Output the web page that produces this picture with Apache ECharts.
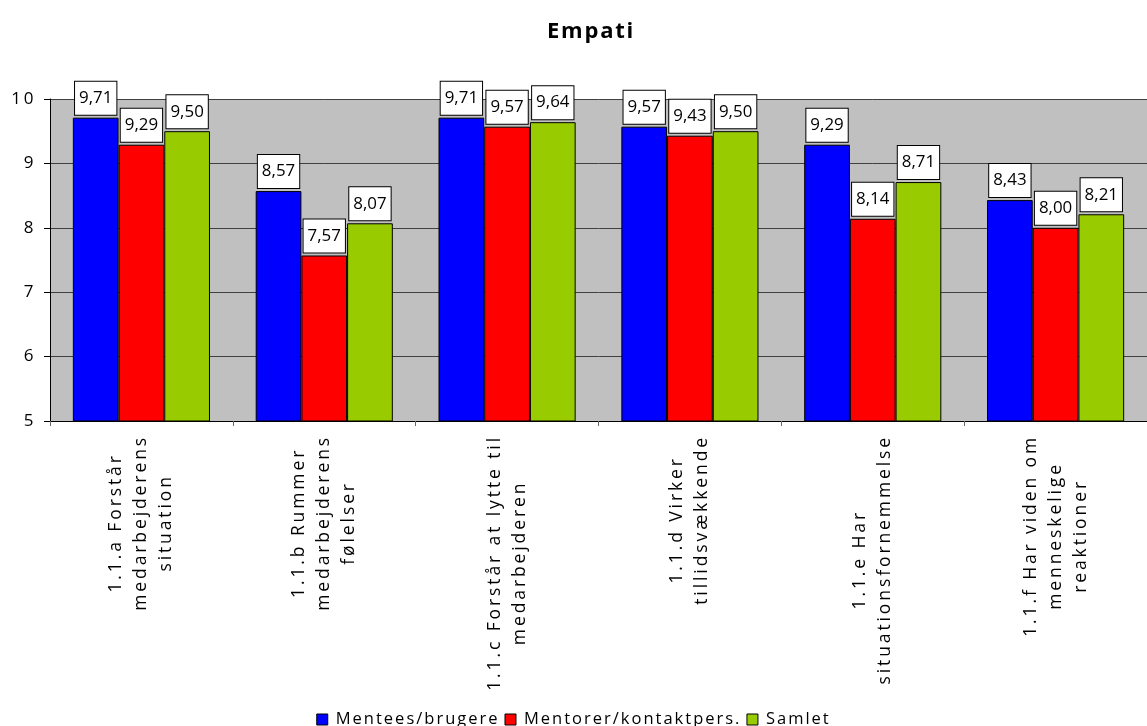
<!DOCTYPE html>
<html>
<head>
<meta charset="utf-8">
<script src="https://cdn.jsdelivr.net/npm/echarts@6/dist/echarts.min.js"></script>
<style>
  html, body { margin: 0; padding: 0; background: #fff; }
  #chart { width: 1147px; height: 726px; }
</style>
</head>
<body>
<div id="chart"></div>
<script>
// Survey items (line breaks as printed under the axis)
const categories = [
  '1.1.a Forstår\nmedarbejderens\nsituation',
  '1.1.b Rummer\nmedarbejderens\nfølelser',
  '1.1.c Forstår at lytte til\nmedarbejderen',
  '1.1.d Virker\ntillidsvækkende',
  '1.1.e Har\nsituationsfornemmelse',
  '1.1.f Har viden om\nmenneskelige\nreaktioner'
];
const seriesNames = ['Mentees/brugere', 'Mentorer/kontaktpers.', 'Samlet'];
const mentees = [9.71, 8.57, 9.71, 9.57, 9.29, 8.43];
const mentorer = [9.29, 7.57, 9.57, 9.43, 8.14, 8.00];
const samlet = [9.50, 8.07, 9.64, 9.50, 8.71, 8.21];
const yTicks = [5, 6, 7, 8, 9, 10];

// Tracking (px) for the wide-set text, keyed by font size
const LETTER_SPACING = { '17.5': 2.9, '17': 2.6, '16.5': 2.0, '22': 1.8 };

// Apply tracking whenever a canvas font is set, so measuring and drawing agree
(function () {
  const proto = CanvasRenderingContext2D.prototype;
  const desc = Object.getOwnPropertyDescriptor(proto, 'font');
  if (!desc || !('letterSpacing' in proto)) return;
  Object.defineProperty(proto, 'font', {
    configurable: true,
    get() { return desc.get.call(this); },
    set(v) {
      desc.set.call(this, v);
      const m = /(\d+(?:\.\d+)?)px/.exec(v);
      const sp = m ? LETTER_SPACING[String(parseFloat(m[1]))] : 0;
      this.letterSpacing = (sp || 0) + 'px';
    }
  });
})();

const FONT = '"Open Sans", "DejaVu Sans", sans-serif';
const colors = ['#0000FF', '#FF0000', '#99CC00'];
const values = [mentees, mentorer, samlet];

const chart = echarts.init(document.getElementById('chart'));

const series = seriesNames.map((name, i) => ({
  name: name,
  type: 'bar',
  data: values[i],
  barGap: '0%',
  barCategoryGap: '25%',
  itemStyle: { color: colors[i], borderColor: '#000', borderWidth: 1 },
  label: {
    show: true,
    position: 'top',
    distance: 3,
    formatter: p => p.value.toFixed(2).replace('.', ','),
    fontFamily: FONT,
    fontSize: 16.9,
    color: '#000',
    backgroundColor: '#fff',
    borderColor: '#000',
    borderWidth: 1,
    padding: [8, 4, 8, 4]
  }
}));

chart.setOption({
  animation: false,
  backgroundColor: '#fff',
  color: colors,
  title: {
    text: 'Empati',
    left: 586,
    textAlign: 'center',
    top: 15,
    textStyle: { fontFamily: FONT, fontSize: 22, fontWeight: 'bold', color: '#000' }
  },
  legend: {
    data: seriesNames,
    left: 'center',
    top: 705,
    icon: 'rect',
    itemWidth: 11,
    itemHeight: 11,
    itemGap: 5,
    itemStyle: { borderColor: '#000', borderWidth: 1 },
    textStyle: { fontFamily: FONT, fontSize: 16.5, color: '#000', padding: [0, 0, 0, 3] }
  },
  grid: {
    left: 50,
    right: -13,
    top: 99,
    bottom: 305,
    show: true,
    backgroundColor: '#C0C0C0',
    borderWidth: 0
  },
  xAxis: {
    type: 'category',
    data: categories,
    axisLine: { show: true, lineStyle: { color: '#000', width: 1 } },
    axisTick: { show: true, length: 5, lineStyle: { color: '#666' } },
    axisLabel: {
      rotate: 90,
      margin: 14,
      interval: 0,
      formatter: v => v.split('\n').map(l => '{c|' + l + '}').join('\n'),
      rich: {
        c: { align: 'center', fontFamily: FONT, fontSize: 17.5, lineHeight: 25, color: '#000' }
      }
    }
  },
  yAxis: {
    type: 'value',
    min: yTicks[0],
    max: yTicks[yTicks.length - 1],
    interval: 1,
    axisLine: { show: true, lineStyle: { color: '#000', width: 1 } },
    axisTick: { show: true, length: 6, lineStyle: { color: '#000' } },
    axisLabel: { fontFamily: FONT, fontSize: 17, color: '#000', margin: 14 },
    splitLine: { show: true, lineStyle: { color: '#404040', width: 1 } }
  },
  series: series
});
</script>
</body>
</html>
